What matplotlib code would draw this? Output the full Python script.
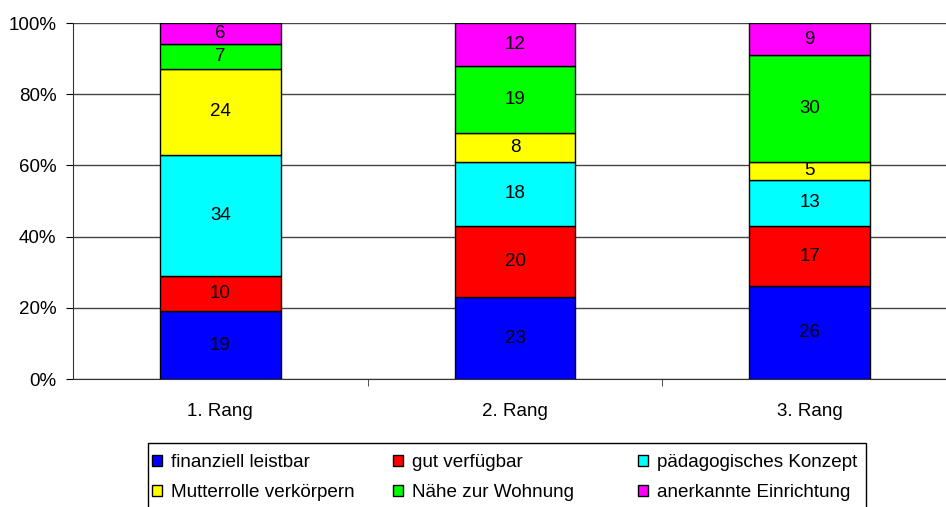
import numpy as np
import matplotlib
matplotlib.use("Agg")
import matplotlib.pyplot as plt
from matplotlib.patches import Rectangle
from matplotlib.ticker import PercentFormatter

plt.rcParams['font.family'] = ['Liberation Sans', 'DejaVu Sans']

categories = ['1. Rang', '2. Rang', '3. Rang']
series = ['finanziell leistbar', 'gut verfügbar', 'pädagogisches Konzept',
          'Mutterrolle verkörpern', 'Nähe zur Wohnung', 'anerkannte Einrichtung']
colors = ['#0000FF', '#FF0000', '#00FFFF', '#FFFF00', '#00FF00', '#FF00FF']

finanziell = [19, 23, 26]
verfuegbar = [10, 20, 17]
konzept = [34, 18, 13]
mutterrolle = [24, 8, 5]
naehe = [7, 19, 30]
anerkannt = [6, 12, 9]
values = [finanziell, verfuegbar, konzept, mutterrolle, naehe, anerkannt]

W, H = 946, 507
fig = plt.figure(figsize=(W / 100, H / 100), dpi=100)
ax = fig.add_axes([73 / W, 128 / H, 884 / W, 356 / H])

x = np.arange(len(categories))
totals = np.sum(values, axis=0)
bottom = np.zeros(len(categories))
handles = []
for name, vals, col in zip(series, values, colors):
    pct = np.array(vals) / totals * 100
    bars = ax.bar(x, pct, 0.41, bottom=bottom, color=col, edgecolor='black',
                  linewidth=1, label=name, zorder=3)
    handles.append(bars)
    for xi, b, p, v in zip(x, bottom, pct, vals):
        ax.text(xi, b + p / 2, str(v), ha='center', va='center',
                fontsize=13.5, zorder=4)
    bottom += pct

ax.set_xlim(-0.5, 2.5)
ax.set_ylim(0, 100)
ax.set_yticks(np.arange(0, 101, 20))
ax.yaxis.set_major_formatter(PercentFormatter(decimals=0))
ax.set_xticks(x)
ax.set_xticklabels(categories)
ax.set_xticks([0.5, 1.5, 2.5], minor=True)
ax.tick_params(axis='x', which='major', length=0, pad=17, labelsize=13.5)
ax.tick_params(axis='x', which='minor', length=5, direction='out', color='#333333')
ax.tick_params(axis='y', length=5, direction='out', labelsize=13.5, pad=7)
ax.yaxis.grid(True, color='#444444', linewidth=1, zorder=0)
for s in ['top', 'right']:
    ax.spines[s].set_visible(False)
ax.spines['left'].set_color('#333333')
ax.spines['bottom'].set_color('#333333')

# legend: three equal-width columns, row-wise order like the original
col_x = [152, 393, 638]
for j, cx in enumerate(col_x):
    fig.legend([handles[j], handles[j + 3]], [series[j], series[j + 3]],
               loc='upper left', bbox_to_anchor=(cx / W, 1 - 454 / H),
               frameon=False, fontsize=13.6, handlelength=0.52, handleheight=0.52,
               handletextpad=0.5, labelspacing=0.7, borderpad=0, borderaxespad=0)
fig.add_artist(Rectangle((148 / W, -0.02), (866 - 148) / W, 0.02 + (H - 443) / H,
                         transform=fig.transFigure, fill=False,
                         edgecolor='black', linewidth=1))

fig.savefig('out.png', dpi=100)
